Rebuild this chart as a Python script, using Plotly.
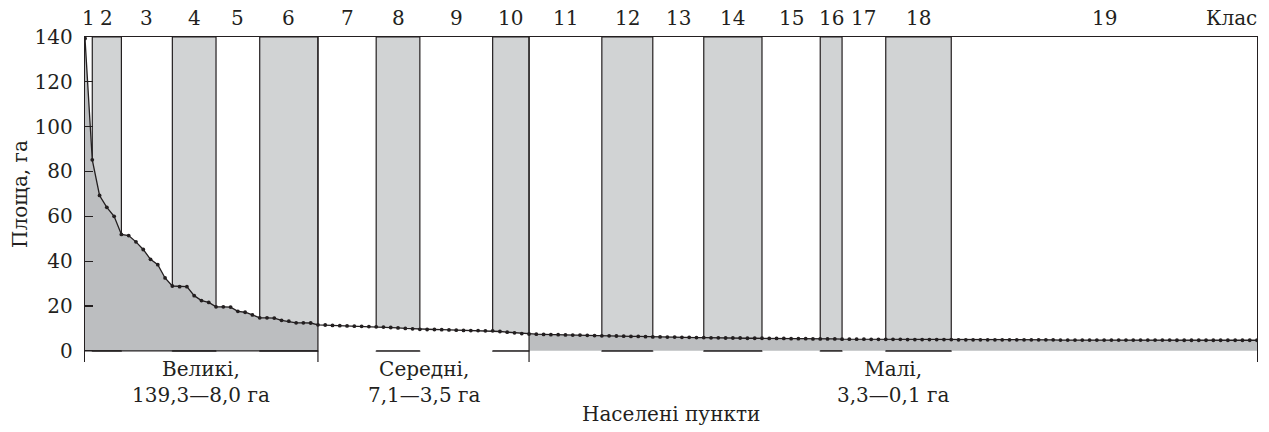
import plotly.graph_objects as go

# ---- data ----
area_large = [139.3, 85.2, 69.3, 64.0, 60.0, 51.9, 51.4, 48.6, 45.2, 40.8, 38.4, 32.5,
              28.9, 28.6, 28.6, 24.6, 22.4, 21.6, 19.6, 19.6, 19.5, 17.6, 17.2, 16.0,
              14.7, 14.7, 14.6, 13.6, 13.2, 12.5, 12.5, 12.4]
area_medium = [11.6, 11.5, 11.3, 11.2, 11.1, 11.0, 10.9, 10.8, 10.7, 10.6, 10.4, 10.2,
               10.0, 9.8, 9.6, 9.5, 9.5, 9.4, 9.3, 9.2, 9.1, 9.0, 9.0, 8.9, 8.9, 8.6,
               8.3, 8.0, 7.7]
area_small = [7.5, 7.4, 7.3, 7.2, 7.2, 7.1, 7.0, 7.0, 6.9, 6.8, 6.7, 6.7, 6.6, 6.5, 6.4,
              6.4, 6.3, 6.2, 6.2, 6.1, 6.1, 6.0, 6.0, 5.9, 5.9, 5.8, 5.8, 5.7, 5.7, 5.7,
              5.6, 5.6, 5.6, 5.5, 5.5, 5.5, 5.4, 5.4, 5.4, 5.3, 5.3, 5.3, 5.3, 5.2, 5.2,
              5.2, 5.2, 5.1, 5.1, 5.1, 5.1, 5.1, 5.0, 5.0, 5.0, 5.0, 5.0, 5.0, 5.0,
              4.9, 4.9, 4.9, 4.9, 4.9, 4.9, 4.9, 4.9, 4.9, 4.9, 4.9, 4.9, 4.9, 4.9,
              4.8, 4.8, 4.8, 4.8, 4.8, 4.8, 4.8, 4.8, 4.8, 4.8, 4.8, 4.8, 4.8, 4.8, 4.8, 4.8,
              4.7, 4.7, 4.7, 4.7, 4.7, 4.7, 4.7, 4.7, 4.7, 4.7, 4.7, 4.7]

class_labels = [str(i) for i in range(1, 20)]
class_bounds = [0, 1, 5, 12, 18, 24, 32, 40, 46, 56, 61, 71, 78, 85, 93, 101, 104, 110, 119, 161]
group_bounds = [0, 32, 61, 161]
group_labels = ["Великі,<br>139,3—8,0 га", "Середні,<br>7,1—3,5 га", "Малі,<br>3,3—0,1 га"]
y_ticks = [0, 20, 40, 60, 80, 100, 120, 140]

INK = "#231f20"
BAND = "#d1d3d4"
FILL = "#bcbec0"
FONT = "DejaVu Serif"
FS = 20

values = area_large + area_medium + area_small
xs = list(range(len(values)))
ymax = 140

fig = go.Figure()

# gray class bands (even classes)
bx, bw = [], []
for i in range(len(class_labels)):
    if (i + 1) % 2 == 0:
        a, b = class_bounds[i], class_bounds[i + 1]
        bx.append((a + b) / 2)
        bw.append(b - a)
fig.add_trace(go.Bar(x=bx, y=[ymax] * len(bx), width=bw, base=0,
                     marker=dict(color=BAND, line=dict(color=INK, width=1.2)),
                     hoverinfo="skip", showlegend=False))

# area under the curve per group
n1 = len(area_large)
n2 = n1 + len(area_medium)
seg = [(0, n1 + 1, FILL), (n1, n2 + 1, "white"), (n2, len(values), FILL)]
for a, b, col in seg:
    fig.add_trace(go.Scatter(x=xs[a:b], y=values[a:b], mode="lines", line=dict(width=0),
                             fill="tozeroy", fillcolor=col, hoverinfo="skip", showlegend=False))

# baseline segments: large group + under gray bands
lx, ly = [group_bounds[0], group_bounds[1], None], [0, 0, None]
for c, w in zip(bx, bw):
    lx += [c - w / 2, c + w / 2, None]
    ly += [0, 0, None]
fig.add_trace(go.Scatter(x=lx, y=ly, mode="lines", line=dict(color=INK, width=1.2),
                         hoverinfo="skip", showlegend=False))

# the curve
fig.add_trace(go.Scatter(x=xs, y=values, mode="lines+markers",
                         line=dict(color=INK, width=1.3),
                         marker=dict(color=INK, size=3.8), showlegend=False))

# group separators
sx, sy = [], []
for g in group_bounds[1:-1]:
    sx += [g, g, None]
    sy += [-5, ymax, None]
fig.add_trace(go.Scatter(x=sx, y=sy, mode="lines", line=dict(color=INK, width=1.2),
                         hoverinfo="skip", showlegend=False))

tf = dict(family=FONT, size=FS, color=INK)
ann = []
for i, lab in enumerate(class_labels):
    ann.append(dict(x=(class_bounds[i] + class_bounds[i + 1]) / 2, y=1, xref="x", yref="paper",
                    text=lab, showarrow=False, yanchor="middle", yshift=19, font=tf))
ann.append(dict(x=class_bounds[-1], y=1, xref="x", yref="paper", text="Клас", showarrow=False,
                xanchor="right", yanchor="middle", yshift=19, xshift=2, font=tf))
for j in range(3):
    cx = (group_bounds[j] + group_bounds[j + 1]) / 2
    ann.append(dict(x=cx, y=0, xref="x", yref="paper", text=group_labels[j], showarrow=False,
                    yanchor="middle", yshift=-20, font=tf))
ann.append(dict(x=0.5, y=0, xref="paper", yref="paper", text="Населені пункти", showarrow=False,
                yanchor="middle", yshift=-52, font=tf))
ann.append(dict(x=0, y=(ymax / 2 + 5) / (ymax + 5), xref="paper", yref="paper", text="Площа, га",
                showarrow=False, textangle=-90, xanchor="center", yanchor="middle", xshift=-65,
                font=tf))

fig.update_layout(
    width=1269, height=432,
    margin=dict(l=85, r=12, t=37, b=70),
    paper_bgcolor="white", plot_bgcolor="white",
    bargap=0, showlegend=False, hovermode=False,
    annotations=ann,
    xaxis=dict(range=[class_bounds[0], class_bounds[-1]], side="top", showline=True,
               linecolor=INK, linewidth=1.2, showticklabels=False, ticks="",
               showgrid=False, zeroline=False, fixedrange=True),
    yaxis=dict(range=[-5, ymax], tickvals=y_ticks, ticks="inside", ticklen=8,
               tickcolor=INK, tickwidth=1.2, showline=True, mirror=True, linecolor=INK,
               linewidth=1.2, showgrid=False, zeroline=False, fixedrange=True,
               tickfont=tf, ticklabelstandoff=7),
)

# remove the page's default 8px body margin so the figure sits at the window's corner
fig.write_html("out.html", config={"displayModeBar": False, "staticPlot": True},
               post_script="document.body.style.margin='0';")
